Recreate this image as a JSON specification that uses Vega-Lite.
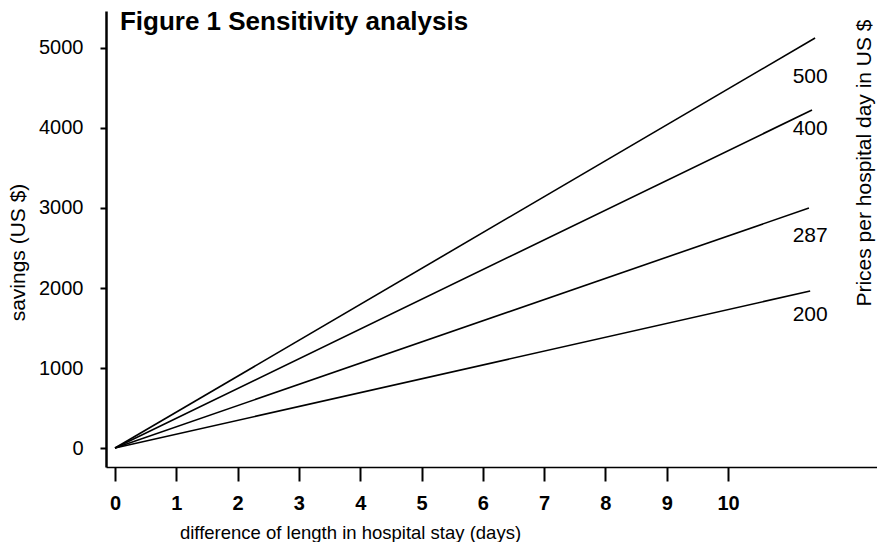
{
  "$schema": "https://vega.github.io/schema/vega-lite/v6.json",
  "autosize": "none",
  "width": 771,
  "height": 456,
  "padding": {"left": 106, "top": 11, "right": 0, "bottom": 75},
  "background": "white",
  "config": {
    "font": "Liberation Sans",
    "view": {"stroke": null}
  },
  "datasets": {
    "lines": [
      {"price": "500", "days": 0, "savings": 0},
      {"price": "500", "days": 11.42, "savings": 5125},
      {"price": "400", "days": 0, "savings": 0},
      {"price": "400", "days": 11.37, "savings": 4225},
      {"price": "287", "days": 0, "savings": 0},
      {"price": "287", "days": 11.32, "savings": 3000},
      {"price": "200", "days": 0, "savings": 0},
      {"price": "200", "days": 11.34, "savings": 1962}
    ],
    "labels": [
      {"label": "500", "days": 11.34, "savings": 4637},
      {"label": "400", "days": 11.34, "savings": 3987},
      {"label": "287", "days": 11.34, "savings": 2650},
      {"label": "200", "days": 11.34, "savings": 1662}
    ],
    "notes": [
      {"text": "Prices per hospital day in US $", "days": 12.23, "savings": 3562}
    ],
    "heading": [
      {"text": "Figure 1 Sensitivity analysis", "days": 0.08, "savings": 5325}
    ]
  },
  "layer": [
    {
      "data": {"name": "lines"},
      "mark": {"type": "line", "color": "black", "strokeWidth": 1.6},
      "encoding": {
        "x": {
          "field": "days", "type": "quantitative",
          "scale": {"domain": [-0.147, 12.43], "nice": false, "zero": false},
          "axis": {
            "values": [0, 1, 2, 3, 4, 5, 6, 7, 8, 9, 10],
            "format": "d",
            "grid": false,
            "title": "difference of length in hospital stay (days)",
            "titleFontSize": 18.5,
            "titleFontWeight": "normal",
            "titleColor": "black",
            "titleX": 244,
            "titleY": 65,
            "titleBaseline": "middle",
            "domainColor": "black",
            "domainWidth": 1.5,
            "tickColor": "black",
            "tickSize": 14,
            "tickWidth": 2,
            "labelFontSize": 20,
            "labelFontWeight": "bold",
            "labelColor": "black",
            "labelPadding": 12,
            "labelFlush": false
          }
        },
        "y": {
          "field": "savings", "type": "quantitative",
          "scale": {"domain": [-237, 5462], "nice": false, "zero": false},
          "axis": {
            "values": [0, 1000, 2000, 3000, 4000, 5000],
            "format": "d",
            "grid": false,
            "title": "savings (US $)",
            "titleFontSize": 21,
            "titleFontWeight": "normal",
            "titleColor": "black",
            "titleX": -88,
            "titleY": 241,
            "titleBaseline": "middle",
            "domainColor": "black",
            "domainWidth": 2.5,
            "tickColor": "black",
            "tickSize": 6,
            "tickWidth": 2,
            "labelFontSize": 20,
            "labelColor": "black",
            "labelPadding": 17
          }
        },
        "detail": {"field": "price", "type": "nominal"}
      }
    },
    {
      "data": {"name": "labels"},
      "mark": {"type": "text", "fontSize": 21, "color": "black", "align": "center", "baseline": "middle"},
      "encoding": {
        "x": {"field": "days", "type": "quantitative"},
        "y": {"field": "savings", "type": "quantitative"},
        "text": {"field": "label"}
      }
    },
    {
      "data": {"name": "notes"},
      "mark": {"type": "text", "fontSize": 21, "color": "black", "align": "center", "baseline": "middle", "angle": 270},
      "encoding": {
        "x": {"field": "days", "type": "quantitative"},
        "y": {"field": "savings", "type": "quantitative"},
        "text": {"field": "text"}
      }
    },
    {
      "data": {"name": "heading"},
      "mark": {"type": "text", "fontSize": 26, "fontWeight": "bold", "color": "black", "align": "left", "baseline": "middle"},
      "encoding": {
        "x": {"field": "days", "type": "quantitative"},
        "y": {"field": "savings", "type": "quantitative"},
        "text": {"field": "text"}
      }
    }
  ]
}
